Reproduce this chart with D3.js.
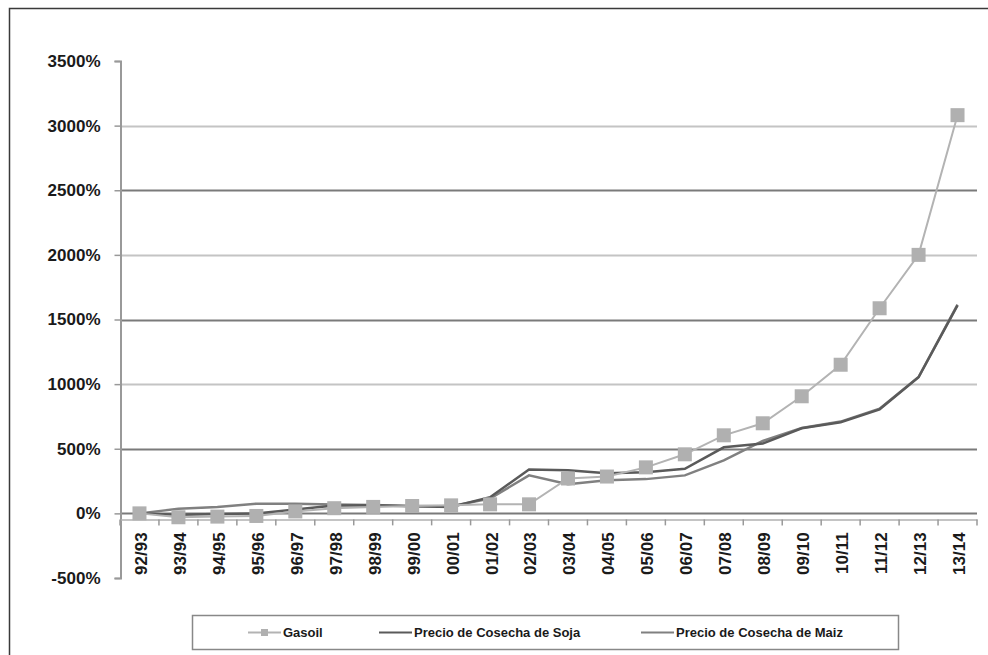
<!DOCTYPE html>
<html>
<head>
<meta charset="utf-8">
<script src="https://cdn.jsdelivr.net/npm/d3@7/dist/d3.min.js"></script>
<style>
  html, body { margin: 0; padding: 0; background: #fff; }
  svg { display: block; font-family: "Liberation Sans", Arial, sans-serif; }
</style>
</head>
<body>
<svg id="chart" width="988" height="655"></svg>
<script>
const categories = ["92/93","93/94","94/95","95/96","96/97","97/98","98/99","99/00","00/01","01/02","02/03","03/04","04/05","05/06","06/07","07/08","08/09","09/10","10/11","11/12","12/13","13/14"];
const gasoil = [0,-30,-25,-20,15,40,50,57,62,70,70,270,285,356,457,604,697,906,1150,1587,2000,3081];
const soja   = [0,-10,-5,0,30,60,62,55,50,125,340,333,310,318,345,511,540,658,705,805,1053,1610];
const maiz   = [0,35,50,75,75,68,65,57,55,115,294,225,256,265,294,410,560,660,710,810,1055,1615];
const yTicks = [-500,0,500,1000,1500,2000,2500,3000,3500];
const seriesNames = ["Gasoil","Precio de Cosecha de Soja","Precio de Cosecha de Maiz"];

const svg = d3.select("#chart");

// outer frame
svg.append("rect").attr("x",9.5).attr("y",8.5).attr("width",1000).attr("height",700)
  .attr("fill","none").attr("stroke","#3a3a3a").attr("stroke-width",1.5);

const x = d3.scaleBand().domain(categories).range([120, 977]).padding(0);
const y = d3.scaleLinear().domain([-500, 3500]).range([578, 61]);
const cx = d => x(d) + x.bandwidth()/2;

// gridlines
const gridColor = v => (v % 1000 === 0 && v !== 0) ? "#c4c4c4" : "#7a7a7a";
svg.append("g").selectAll("line")
  .data(yTicks.filter(v => v >= 0 && v < 3500))
  .join("line")
  .attr("x1", 120).attr("x2", 977)
  .attr("y1", d => Math.round(y(d)) + 0.5).attr("y2", d => Math.round(y(d)) + 0.5)
  .attr("stroke", gridColor).attr("stroke-width", 2);

// y axis
const yAxis = d3.axisLeft(y).tickValues(yTicks).tickSize(6).tickPadding(14).tickFormat(d => d + "%");
const gy = svg.append("g").attr("transform", "translate(120.5,0)").call(yAxis);
gy.select(".domain").attr("stroke", "#999").attr("stroke-width", 2);
gy.selectAll(".tick line").attr("stroke", "#999").attr("stroke-width", 1.5);
gy.selectAll(".tick text").attr("fill", "#1a1a1a").style("font-size", "17px").style("font-weight", "bold");

// x axis (slightly below zero line)
const xAxis = d3.axisBottom(x).tickSize(0).tickFormat("");
const axY = y(0) + 6;
const gx = svg.append("g").attr("transform", `translate(0,${axY})`).call(xAxis);
gx.select(".domain").attr("stroke", "#b0b0b0").attr("stroke-width", 1.5);
// ticks at category boundaries
svg.append("g").selectAll("line")
  .data(categories.concat(["_end"]))
  .join("line")
  .attr("x1", (d,i) => x.range()[0] + i * x.bandwidth())
  .attr("x2", (d,i) => x.range()[0] + i * x.bandwidth())
  .attr("y1", axY).attr("y2", axY + 6)
  .attr("stroke", "#999").attr("stroke-width", 1.5);
// labels
svg.append("g").selectAll("text")
  .data(categories)
  .join("text")
  .attr("transform", d => `translate(${cx(d) + 1.5},${axY + 13}) rotate(-90)`)
  .attr("text-anchor", "end")
  .attr("dy", "0.35em")
  .attr("fill", "#1a1a1a")
  .style("font-size", "17px").style("font-weight", "bold")
  .text(d => d);

// lines
const line = d3.line().x((d,i) => cx(categories[i])).y(d => y(d));
svg.append("path").datum(maiz).attr("d", line)
  .attr("fill","none").attr("stroke","#808080").attr("stroke-width",2.5);
svg.append("path").datum(soja).attr("d", line)
  .attr("fill","none").attr("stroke","#5a5a5a").attr("stroke-width",2.5);
svg.append("path").datum(gasoil).attr("d", line)
  .attr("fill","none").attr("stroke","#b3b3b3").attr("stroke-width",2);
svg.append("g").selectAll("rect")
  .data(gasoil)
  .join("rect")
  .attr("x", (d,i) => cx(categories[i]) - 7)
  .attr("y", d => y(d) - 7)
  .attr("width", 14).attr("height", 14)
  .attr("fill", "#b0b0b0");

// legend
svg.append("rect").attr("x",192.5).attr("y",615.5).attr("width",706).attr("height",34)
  .attr("fill","#fff").attr("stroke","#888").attr("stroke-width",1.5);
const legendItems = [
  {name: seriesNames[0], x1: 248, color: "#b3b3b3", w: 2, marker: true},
  {name: seriesNames[1], x1: 379, color: "#5a5a5a", w: 2, marker: false},
  {name: seriesNames[2], x1: 641, color: "#808080", w: 2, marker: false}
];
const lg = svg.append("g").selectAll("g").data(legendItems).join("g");
lg.append("line").attr("x1", d => d.x1).attr("x2", d => d.x1 + 33)
  .attr("y1", 632.5).attr("y2", 632.5)
  .attr("stroke", d => d.color).attr("stroke-width", d => d.w);
lg.filter(d => d.marker).append("rect")
  .attr("x", d => d.x1 + 13).attr("y", 629).attr("width", 7).attr("height", 7)
  .attr("fill", "#b0b0b0");
lg.append("text").attr("x", d => d.x1 + 35).attr("y", 632.5).attr("dy","0.35em")
  .attr("fill","#1a1a1a").style("font-size","13px").style("font-weight","bold")
  .text(d => d.name);
</script>
</body>
</html>
